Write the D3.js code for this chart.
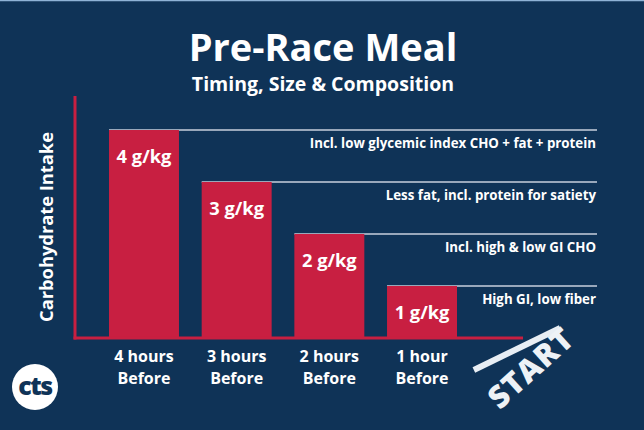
<!DOCTYPE html>
<html>
<head>
<meta charset="utf-8">
<script src="https://cdn.jsdelivr.net/npm/d3@7"></script>
<style>
  html, body { margin: 0; padding: 0; background: #0f3357; }
  text { font-family: "Open Sans", sans-serif; font-weight: 700; fill: #fff; }
</style>
</head>
<body>
<div id="chart"></div>
<script>
const W = 644, H = 430;

// chart data
const categories = ["4 hours Before", "3 hours Before", "2 hours Before", "1 hour Before"];
const categoryLines = [["4 hours", "Before"], ["3 hours", "Before"], ["2 hours", "Before"], ["1 hour", "Before"]];
const carbs = [4, 3, 2, 1];
const carbLabels = ["4 g/kg", "3 g/kg", "2 g/kg", "1 g/kg"];
const notes = [
  "Incl. low glycemic index CHO + fat + protein",
  "Less fat, incl. protein for satiety",
  "Incl. high & low GI CHO",
  "High GI, low fiber"
];

const navy = "#0f3357", red = "#c81f41";

const svg = d3.select("#chart").append("svg")
  .attr("width", W).attr("height", H);

svg.append("rect").attr("width", W).attr("height", H).attr("fill", navy);
svg.append("line").attr("x1", 0).attr("x2", W).attr("y1", 0.5).attr("y2", 0.5)
  .attr("stroke", "#8fb3d6").attr("stroke-width", 1.5);

// scales
const x = d3.scaleBand()
  .domain(categories)
  .range([109, 457])
  .paddingInner(0.245)
  .paddingOuter(0);

const y = d3.scaleLinear()
  .domain([0, 4])
  .range([338, 130]);

// title
svg.append("text")
  .attr("x", 323).attr("y", 61)
  .attr("text-anchor", "middle")
  .style("font-size", "38px")
  .text("Pre-Race Meal");

svg.append("text")
  .attr("x", 323).attr("y", 91)
  .attr("text-anchor", "middle")
  .style("font-size", "19.5px")
  .text("Timing, Size & Composition");

// reference lines from the top of each bar
svg.selectAll(".ref")
  .data(carbs)
  .enter().append("line")
  .attr("class", "ref")
  .attr("x1", (d, i) => x(categories[i]))
  .attr("x2", 597)
  .attr("y1", d => y(d))
  .attr("y2", d => y(d))
  .attr("stroke", "#c9d1dc")
  .attr("stroke-width", 1.5);

svg.selectAll(".note")
  .data(notes)
  .enter().append("text")
  .attr("class", "note")
  .attr("x", 596)
  .attr("y", (d, i) => y(carbs[i]) + 18)
  .attr("text-anchor", "end")
  .style("font-size", "13.3px")
  .text(d => d);

// bars
svg.selectAll(".bar")
  .data(carbs)
  .enter().append("rect")
  .attr("class", "bar")
  .attr("x", (d, i) => x(categories[i]))
  .attr("width", x.bandwidth())
  .attr("y", d => y(d))
  .attr("height", d => y(0) - y(d))
  .attr("fill", red);

svg.selectAll(".val")
  .data(carbLabels)
  .enter().append("text")
  .attr("class", "val")
  .attr("x", (d, i) => x(categories[i]) + x.bandwidth() / 2)
  .attr("y", (d, i) => y(carbs[i]) + 33)
  .attr("text-anchor", "middle")
  .style("font-size", "18.3px")
  .text(d => d);

// axes lines
svg.append("line")
  .attr("x1", 75).attr("x2", 75)
  .attr("y1", 96).attr("y2", y(0) + 1.5)
  .attr("stroke", red).attr("stroke-width", 3);

svg.append("line")
  .attr("x1", 73.5).attr("x2", 523)
  .attr("y1", y(0)).attr("y2", y(0))
  .attr("stroke", red).attr("stroke-width", 3);

svg.append("text")
  .attr("transform", "translate(53, 227) rotate(-90)")
  .attr("text-anchor", "middle")
  .style("font-size", "18.3px")
  .text("Carbohydrate Intake");

// category labels, one text per line
const xAxis = svg.append("g")
  .attr("transform", `translate(0, ${y(0)})`)
  .call(d3.axisBottom(x).tickSize(0).tickFormat(""));
xAxis.select(".domain").remove();
xAxis.selectAll(".tick").each(function(d, i) {
  const tick = d3.select(this);
  categoryLines[i].forEach((line, j) => {
    tick.append("text")
      .attr("text-anchor", "middle")
      .attr("y", 24 + j * 22)
      .style("font-size", "16px")
      .style("fill", "#fff")
      .text(line);
  });
});

// START marker
const start = svg.append("g").attr("transform", "translate(530, 368)");
start.append("rect")
  .attr("x", -48).attr("y", -3).attr("width", 96).attr("height", 6)
  .attr("fill", "#e8eef4")
  .attr("transform", "translate(-13,-19) rotate(-26)");
start.append("text")
  .attr("text-anchor", "middle")
  .attr("transform", "translate(8, 8) rotate(-42)")
  .style("font-size", "31px")
  .style("font-weight", "800")
  .style("letter-spacing", "1px")
  .style("fill", "#eef2f6")
  .text("START");

// logo
const logo = svg.append("g").attr("transform", "translate(35, 387)");
logo.append("circle").attr("r", 23).attr("fill", "#fff");
logo.append("text")
  .attr("text-anchor", "middle")
  .attr("y", 8)
  .style("font-size", "25px")
  .style("font-weight", "800")
  .style("fill", navy)
  .style("letter-spacing", "-1.5px")
  .text("cts");
</script>
</body>
</html>
